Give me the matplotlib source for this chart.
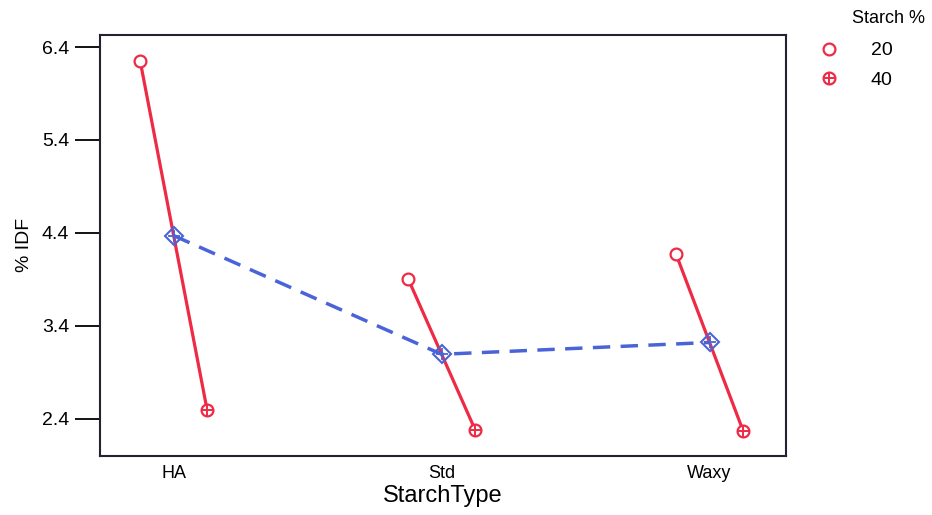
import matplotlib.pyplot as plt
import numpy as np
from matplotlib.lines import Line2D
from matplotlib.legend_handler import HandlerTuple

plt.rcParams['font.family'] = ['Liberation Sans', 'DejaVu Sans']

starch_types = ["HA", "Std", "Waxy"]
idf_20 = np.array([6.25, 3.905, 4.17])
idf_40 = np.array([2.49, 2.28, 2.27])
idf_mean = (idf_20 + idf_40) / 2

red = "#ee2a45"
blue = "#4a63d8"
x = np.arange(len(starch_types))
off = 0.125

fig = plt.figure(figsize=(9.32, 5.15), dpi=100)
ax = fig.add_axes([0.107, 0.115, 0.736, 0.817])

# red segment from 20% to 40% for each starch type
for i in range(len(x)):
    ax.plot([x[i] - off, x[i] + off], [idf_20[i], idf_40[i]], color=red, lw=2.3, zorder=2)

ax.plot(x - off, idf_20, 'o', ms=8.5, mfc='white', mec=red, mew=1.6, ls='none', zorder=3)
ax.plot(x + off, idf_40, 'o', ms=8.5, mfc='white', mec=red, mew=1.6, ls='none', zorder=3)
ax.plot(x + off, idf_40, '+', ms=8.5, mec=red, mew=1.4, ls='none', zorder=4)

# mean line
ax.plot(x, idf_mean, color=blue, lw=2.5, ls=(0, (5, 3)), zorder=4)
ax.plot(x, idf_mean, 'D', ms=9, mfc='none', mec=blue, mew=1.5, ls='none', zorder=5)
ax.plot(x, idf_mean, '+', ms=9, mec=blue, mew=1.3, ls='none', zorder=5)

ax.set_xlim(-0.276, 2.284)
ax.set_ylim(2.0, 6.53)
ax.set_xticks(x)
ax.set_xticklabels(starch_types)
ax.set_yticks([2.4, 3.4, 4.4, 5.4, 6.4])
ax.tick_params(axis='x', length=0, labelsize=13, pad=7)
ax.tick_params(axis='y', length=18, width=1.3, labelsize=14, pad=4)
ax.set_xlabel("StarchType", fontsize=17, labelpad=2)
ax.set_ylabel("% IDF", fontsize=14, labelpad=6)
for s in ax.spines.values():
    s.set_linewidth(1.5)
    s.set_color("#222233")

h20 = Line2D([], [], marker='o', ms=8.5, mfc='white', mec=red, mew=1.6, ls='none')
h40a = Line2D([], [], marker='o', ms=8.5, mfc='white', mec=red, mew=1.6, ls='none')
h40b = Line2D([], [], marker='+', ms=8.5, mec=red, mew=1.4, ls='none')
fig.text(0.914, 0.965, "Starch %", fontsize=13, ha='left', va='center')
fig.legend([h20, (h40a, h40b)], ["20", "40"],
           handler_map={tuple: HandlerTuple(ndivide=1, pad=0)},
           loc='upper left', bbox_to_anchor=(0.855, 0.953), frameon=False,
           fontsize=14, handletextpad=1.4, labelspacing=0.62, handlelength=1.5)

fig.savefig("out.png", dpi=100)
